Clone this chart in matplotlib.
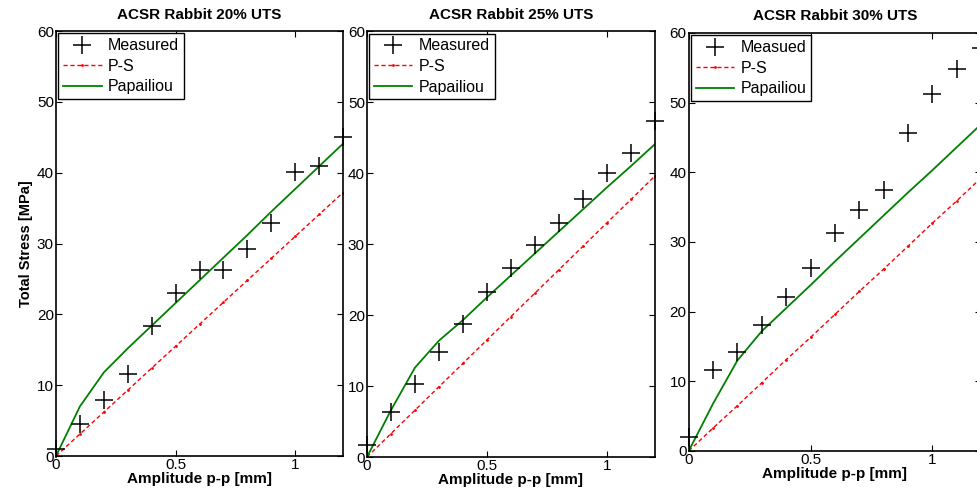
import numpy as np
import matplotlib
matplotlib.use("Agg")
import matplotlib.pyplot as plt

plt.rcParams['font.family'] = ['Liberation Sans', 'DejaVu Sans']

amp = [0.0, 0.1, 0.2, 0.3, 0.4, 0.5, 0.6, 0.7, 0.8, 0.9, 1.0, 1.1, 1.2]

titles = ["ACSR Rabbit 20% UTS", "ACSR Rabbit 25% UTS", "ACSR Rabbit 30% UTS"]
meas_labels = ["Measured", "Measured", "Measued"]

measured = [
    [1.0, 4.5, 7.9, 11.6, 18.3, 23.0, 26.3, 26.3, 29.2, 32.9, 40.1, 41.0, 45.1],
    [1.7, 6.3, 10.3, 14.8, 18.8, 23.2, 26.6, 29.9, 33.0, 36.4, 40.0, 42.8, 47.3],
    [2.0, 11.6, 14.2, 18.1, 22.1, 26.3, 31.3, 34.6, 37.5, 45.6, 51.2, 54.8, 57.8],
]
ps = [
    [0.0, 3.1, 6.2, 9.3, 12.4, 15.5, 18.6, 21.7, 24.8, 27.9, 31.0, 34.1, 37.2],
    [0.0, 3.3, 6.6, 9.9, 13.2, 16.5, 19.8, 23.1, 26.4, 29.7, 33.0, 36.3, 39.6],
    [0.0, 3.3, 6.5, 9.8, 13.1, 16.3, 19.6, 22.9, 26.1, 29.4, 32.7, 35.9, 39.2],
]
papailiou = [
    [0.0, 7.0, 11.8, 15.2, 18.4, 21.6, 24.8, 28.0, 31.2, 34.5, 37.7, 40.9, 44.1],
    [0.0, 6.6, 12.6, 16.4, 19.3, 22.5, 25.6, 28.7, 31.8, 34.9, 38.0, 41.0, 44.1],
    [0.0, 6.8, 13.0, 17.2, 20.5, 23.8, 27.2, 30.5, 33.8, 37.1, 40.3, 43.6, 46.9],
]

positions = [
    [0.0573, 0.0843, 0.2938, 0.8534],
    [0.3756, 0.0823, 0.2948, 0.8550],
    [0.7049, 0.0944, 0.2993, 0.8394],
]

fig = plt.figure(figsize=(9.77, 4.98), dpi=100)

for i in range(3):
    ax = fig.add_axes(positions[i])
    ax.plot(amp, measured[i], '+', color='black', markersize=13, markeredgewidth=1.1,
            label=meas_labels[i], clip_on=False, zorder=5)
    ax.plot(amp, ps[i], '--', color='red', linewidth=1.0, marker='.', markersize=2,
            dashes=(3, 2), label='P-S')
    ax.plot(amp, papailiou[i], '-', color='green', linewidth=1.3, label='Papailiou')
    ax.set_xlim(0, 1.2)
    ax.set_ylim(0, 60)
    ax.set_xticks([0, 0.5, 1])
    ax.set_xticklabels(['0', '0.5', '1'])
    ax.set_yticks(range(0, 61, 10))
    ax.tick_params(direction='in', top=True, right=True, labelsize=11, length=4, pad=1.5)
    for s in ax.spines.values():
        s.set_linewidth(1.2)
    ax.set_title(titles[i], fontsize=11, fontweight='bold', pad=9)
    ax.set_xlabel("Amplitude p-p [mm]", fontsize=11, fontweight='bold', labelpad=0)
    if i == 0:
        ax.set_ylabel("Total Stress [MPa]", fontsize=10.5, fontweight='bold', labelpad=3)
    leg = ax.legend(loc='upper left', fontsize=11.5, fancybox=False, framealpha=1,
                    edgecolor='black', borderaxespad=0.15, handlelength=2.4,
                    borderpad=0.3, labelspacing=0.35, handletextpad=0.4)
    leg.get_frame().set_linewidth(1.0)

fig.savefig("out.png", dpi=100)
